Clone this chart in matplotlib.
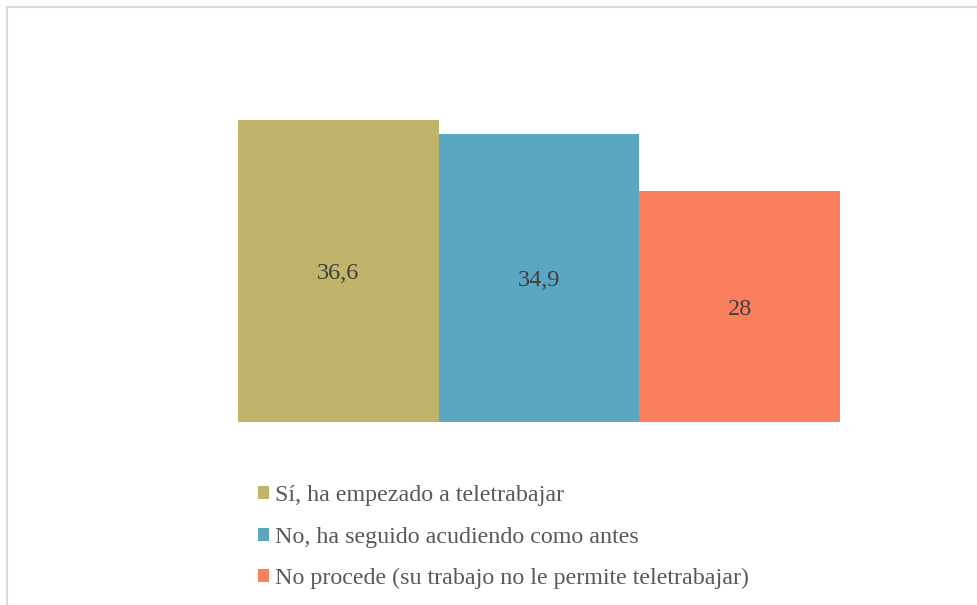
import matplotlib
matplotlib.use('Agg')
import matplotlib.pyplot as plt
from matplotlib.patches import Patch, Rectangle

labels = ['Sí, ha empezado a teletrabajar',
          'No, ha seguido acudiendo como antes',
          'No procede (su trabajo no le permite teletrabajar)']
values = [36.6, 34.9, 28]
value_text = ['36,6', '34,9', '28']
colors = ['#C0B46A', '#5BA6C1', '#FC7F5D']

plt.rcParams['font.family'] = ['Liberation Serif', 'DejaVu Serif']

fig = plt.figure(figsize=(9.77, 6.05), dpi=100)
ax = fig.add_axes([238/977, 1 - 422/605, (840 - 238)/977, 330/605])

x = range(len(values))
ax.bar(x, values, width=1.0, color=colors)
for i, v in enumerate(values):
    ax.annotate(value_text[i], xy=(i, v / 2), xytext=(0, -6), textcoords='offset points',
                ha='center', va='baseline', fontsize=17.5, color='#404040')

ax.set_xlim(-0.5, 2.5)
ax.set_ylim(0, 40)
ax.axis('off')

handles = [Patch(facecolor=c, edgecolor='none') for c in colors]
fig.legend(handles, labels, loc='upper left', bbox_to_anchor=(258/977, 1 - 485.5/605),
           frameon=False, fontsize=17.3, labelcolor='#595959',
           handlelength=0.46, handleheight=0.46, handletextpad=0.25,
           labelspacing=0.84, borderpad=0, borderaxespad=0)

# light grey frame round the chart
fig.patches.append(Rectangle((7/977, -0.01), 1.0, 1 - 7/605 + 0.01,
                             transform=fig.transFigure, fill=False,
                             edgecolor='#D9D9D9', linewidth=1.5))

fig.savefig('out.png', dpi=100)
